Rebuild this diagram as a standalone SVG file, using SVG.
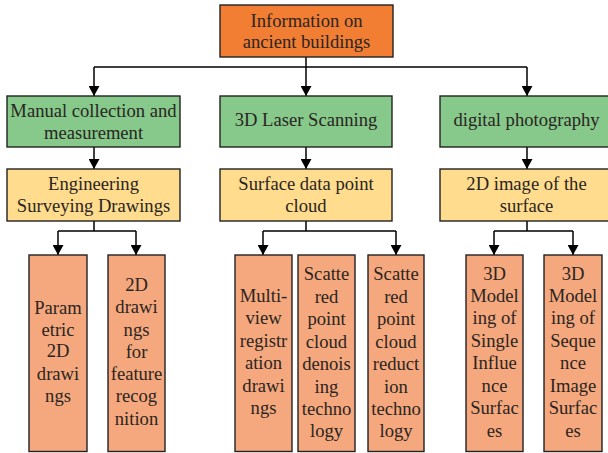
<svg xmlns="http://www.w3.org/2000/svg" width="608" height="453" viewBox="0 0 608 453">
<style>
.b{stroke:#222;stroke-width:1.4}
.top{fill:#F27E33}
.g{fill:#86C98B}
.y{fill:#FFDC8E}
.s{fill:#F5A87D}
text{font-family:"Liberation Serif","Times New Roman",serif;font-size:18.6px;fill:#2a2522;text-anchor:middle}
.c{fill:none;stroke:#000;stroke-width:1.5}
</style>
<defs>
<marker id="ah" markerWidth="12" markerHeight="11" refX="11" refY="6" orient="auto" markerUnits="userSpaceOnUse" viewBox="0 0 11 12">
<path d="M0,0 L11,6 L0,12 Z" fill="#000"/>
</marker>
</defs>
<rect width="608" height="453" fill="#fff"/>
<g id="connectors">
<path class="c" d="M306,57 V67"/>
<path class="c" d="M94,67 H527"/>
<path class="c" d="M94,67 V96" marker-end="url(#ah)"/>
<path class="c" d="M306,67 V96" marker-end="url(#ah)"/>
<path class="c" d="M527,67 V96" marker-end="url(#ah)"/>
<path class="c" d="M94,147 V169" marker-end="url(#ah)"/>
<path class="c" d="M306,147 V169" marker-end="url(#ah)"/>
<path class="c" d="M527,147 V169" marker-end="url(#ah)"/>
<path class="c" d="M94,221 V231 M58,231 H136 M306,221 V231 M263,231 H396 M527,221 V231 M494,231 H573"/>
<path class="c" d="M58,231 V255" marker-end="url(#ah)"/>
<path class="c" d="M136,231 V255" marker-end="url(#ah)"/>
<path class="c" d="M263,231 V255" marker-end="url(#ah)"/>
<path class="c" d="M396,231 V255" marker-end="url(#ah)"/>
<path class="c" d="M494,231 V255" marker-end="url(#ah)"/>
<path class="c" d="M573,231 V255" marker-end="url(#ah)"/>
</g>
<g id="n-top">
<rect class="b top" x="220" y="5" width="173" height="52"/>
<text x="306.5" y="26.7">Information on</text>
<text x="306.5" y="48.3">ancient buildings</text>
</g>
<g id="n-manual">
<rect class="b g" x="7" y="96" width="173" height="51"/>
<text x="93.5" y="117">Manual collection and</text>
<text x="93.5" y="138.5">measurement</text>
</g>
<g id="n-laser">
<rect class="b g" x="220" y="96" width="172" height="51"/>
<text x="306" y="126">3D Laser Scanning</text>
</g>
<g id="n-photo">
<rect class="b g" x="440" y="96" width="173" height="51"/>
<text x="526.5" y="126">digital photography</text>
</g>
<g id="n-eng">
<rect class="b y" x="7" y="169" width="173" height="52"/>
<text x="93.5" y="190">Engineering</text>
<text x="93.5" y="211.7">Surveying Drawings</text>
</g>
<g id="n-surf">
<rect class="b y" x="220" y="169" width="172" height="52"/>
<text x="306" y="190">Surface data point</text>
<text x="306" y="211.7">cloud</text>
</g>
<g id="n-img">
<rect class="b y" x="440" y="169" width="173" height="52"/>
<text x="526.5" y="190">2D image of the</text>
<text x="526.5" y="211.7">surface</text>
</g>
<g id="n-param">
<rect class="b s" x="29" y="255" width="58" height="196.5"/>
<text x="58" y="314">Param</text>
<text x="58" y="335.7">etric</text>
<text x="58" y="357.3">2D</text>
<text x="58" y="380">drawi</text>
<text x="58" y="402.3">ngs</text>
</g>
<g id="n-feat">
<rect class="b s" x="108" y="255" width="57" height="196.5"/>
<text x="136.5" y="291">2D</text>
<text x="136.5" y="313.3">drawi</text>
<text x="136.5" y="335.5">ngs</text>
<text x="136.5" y="357.7">for</text>
<text x="136.5" y="380">feature</text>
<text x="136.5" y="402.3">recog</text>
<text x="136.5" y="424.5">nition</text>
</g>
<g id="n-multi">
<rect class="b s" x="235" y="255" width="57" height="196.5"/>
<text x="263.5" y="301.7">Multi-</text>
<text x="263.5" y="324.3">view</text>
<text x="263.5" y="346.7">registr</text>
<text x="263.5" y="369">ation</text>
<text x="263.5" y="391.7">drawi</text>
<text x="263.5" y="414">ngs</text>
</g>
<g id="n-denoise">
<rect class="b s" x="298" y="255" width="57" height="196.5"/>
<text x="326.5" y="280">Scatte</text>
<text x="326.5" y="302.7">red</text>
<text x="326.5" y="325.3">point</text>
<text x="326.5" y="347.7">cloud</text>
<text x="326.5" y="370.3">denois</text>
<text x="326.5" y="392.7">ing</text>
<text x="326.5" y="415">techno</text>
<text x="326.5" y="437.3">logy</text>
</g>
<g id="n-reduce">
<rect class="b s" x="368" y="255" width="56" height="196.5"/>
<text x="396" y="280">Scatte</text>
<text x="396" y="302.7">red</text>
<text x="396" y="325.3">point</text>
<text x="396" y="347.7">cloud</text>
<text x="396" y="370.3">reduct</text>
<text x="396" y="392.7">ion</text>
<text x="396" y="415">techno</text>
<text x="396" y="437.3">logy</text>
</g>
<g id="n-single">
<rect class="b s" x="466" y="255" width="57" height="196.5"/>
<text x="494.5" y="280">3D</text>
<text x="494.5" y="301.7">Model</text>
<text x="494.5" y="324.3">ing of</text>
<text x="494.5" y="346.7">Single</text>
<text x="494.5" y="369">Influe</text>
<text x="494.5" y="391.7">nce</text>
<text x="494.5" y="414">Surfac</text>
<text x="494.5" y="436.7">es</text>
</g>
<g id="n-seq">
<rect class="b s" x="544" y="255" width="58" height="196.5"/>
<text x="573" y="280">3D</text>
<text x="573" y="301.7">Model</text>
<text x="573" y="324.3">ing of</text>
<text x="573" y="346.7">Seque</text>
<text x="573" y="369">nce</text>
<text x="573" y="391.7">Image</text>
<text x="573" y="414">Surfac</text>
<text x="573" y="436.7">es</text>
</g>
</svg>
